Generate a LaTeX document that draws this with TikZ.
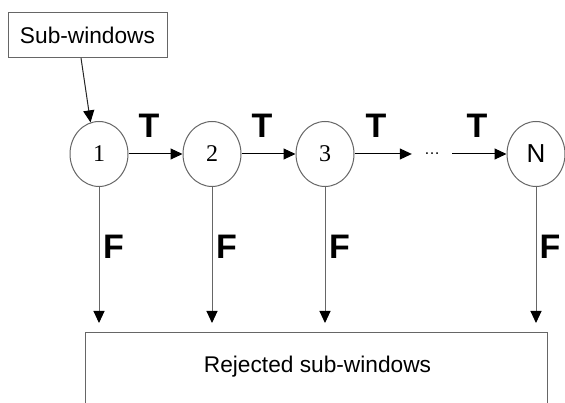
\documentclass[tikz,border=0pt]{standalone}
\usepackage{fontspec}
\setmainfont{Liberation Sans}
\newfontfamily\serifnum{Liberation Serif}
\usetikzlibrary{shapes.geometric,arrows.meta}
\definecolor{linegray}{HTML}{666666}
\tikzset{
  boxnode/.style={draw=linegray, line width=1pt, inner sep=0pt, font=\fontsize{22.7}{26}\selectfont},
  stage/.style={ellipse, draw=linegray, line width=1pt, minimum width=58pt, minimum height=65pt, inner sep=0pt},
  arr/.style={line width=1pt, -{Triangle[length=12pt,width=11pt,color=black]}},
  farr/.style={arr, draw=linegray},
  lbl/.style={font=\bfseries\fontsize{34}{36}\selectfont, inner sep=0pt}
}
\begin{document}
\begin{tikzpicture}[x=1pt,y=-1pt]
\clip (0,0) rectangle (565,403);
\fill[white] (0,0) rectangle (565,403);
% input box
\node[boxnode, minimum width=159pt, minimum height=45pt] (sw) at (87.5,35.5) {Sub-windows};
% stages
\node[stage, font=\serifnum\fontsize{24}{26}\selectfont] (c1) at (99,154) {1};
\node[stage, font=\serifnum\fontsize{24}{26}\selectfont] (c2) at (212,154) {2};
\node[stage, font=\serifnum\fontsize{24}{26}\selectfont] (c3) at (325,154) {3};
\node[stage, font=\fontsize{26}{28}\selectfont] (cN) at (536,154) {N};
\node[inner sep=0pt, minimum width=40pt, font=\fontsize{16}{18}\selectfont\rmfamily] (dots) at (432,154) {\ldots};
% rejected box
\node[boxnode, minimum width=462pt, minimum height=100pt, anchor=north] (rej) at (316,332) {};
\node[font=\fontsize{22.7}{26}\selectfont, inner sep=0pt] (rejt) at (317.5,367) {Rejected sub-windows};
% input arrow
\coordinate (swo) at (81,58);
\draw[arr, draw=black!85] (swo) -- (c1.105);
% T arrows
\draw[arr] (c1) -- (c2);
\draw[arr] (c2) -- (c3);
\draw[arr] (c3) -- (dots.west);
\draw[arr] (dots.east) -- (cN);
% F arrows
\foreach \c in {c1,c2,c3,cN}{
  \draw[farr, shorten >=9pt] (\c.south) -- (\c.south |- rej.north);
}
% labels
\node[lbl] (t1) at (149,126) {T};
\node[lbl] (t2) at (262,126) {T};
\node[lbl] (t3) at (376,126) {T};
\node[lbl] (t4) at (477,126) {T};
\node[lbl] (f1) at (113.5,247) {F};
\node[lbl] (f2) at (226.5,247) {F};
\node[lbl] (f3) at (339.5,247) {F};
\node[lbl] (f4) at (550,247) {F};
\end{tikzpicture}
\end{document}
